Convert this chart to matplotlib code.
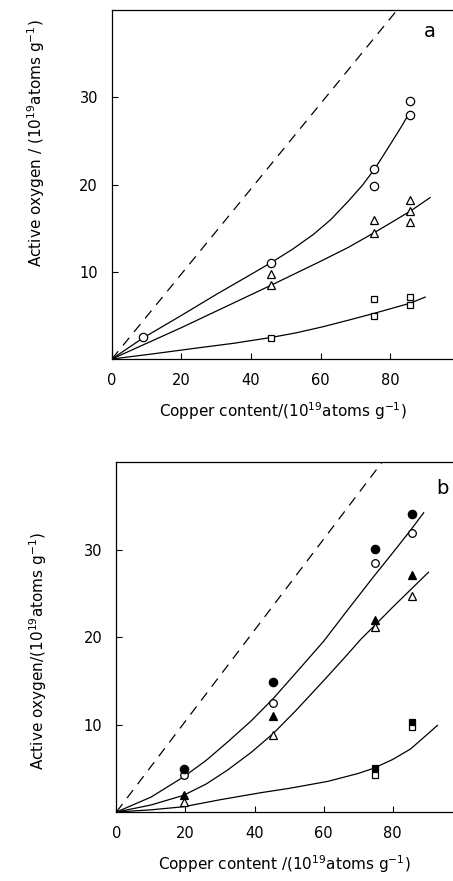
"""
Active oxygen vs copper content, panels a and b
"""
import matplotlib
matplotlib.use("Agg")
import matplotlib.pyplot as plt

# ---- panel a: measured points ----
cir_a_x = [8.9, 45.8, 75.4, 75.4, 85.8, 85.8]
cir_a_y = [2.5, 11.0, 21.8, 19.8, 28.0, 29.6]
tri_a_x = [45.8, 45.8, 75.4, 75.4, 85.8, 85.8, 85.8]
tri_a_y = [9.7, 8.5, 15.9, 14.5, 18.2, 17.0, 15.7]
sq_a_x = [45.8, 75.4, 75.4, 85.8, 85.8]
sq_a_y = [2.4, 6.9, 4.9, 7.1, 6.2]

# panel a: drawn curves
fit_cir_a_x = [0, 8.9, 20, 30, 40, 46, 52, 58, 63, 68, 72, 75.4, 78, 81, 83.5, 85.5]
fit_cir_a_y = [0, 2.4, 5.0, 7.4, 9.7, 11.1, 12.6, 14.3, 16.0, 18.1, 19.9, 21.7, 23.3, 25.2, 26.8, 28.2]
fit_tri_a_x = [0, 20, 46, 60, 68, 75.5, 81, 86, 91.5]
fit_tri_a_y = [0, 3.6, 8.5, 11.2, 12.8, 14.5, 15.8, 17.0, 18.5]
fit_sq_a_x = [0, 12, 23.3, 35, 45.5, 53, 60.7, 68, 75.1, 80, 85.8, 90.1]
fit_sq_a_y = [0, 0.6, 1.2, 1.8, 2.45, 3.0, 3.7, 4.45, 5.2, 5.75, 6.4, 7.1]
dash_a_x = [0, 82]
dash_a_y = [0, 40]

# ---- panel b: measured points ----
cu_b = [19.5, 45.5, 74.8, 85.5]
fcir_b = [4.9, 14.9, 30.1, 34.1]
ocir_b = [4.2, 12.5, 28.5, 31.9]
ftri_b = [1.9, 11.0, 21.9, 27.1]
otri_b = [1.1, 8.8, 21.1, 24.7]
sq_b_x = [74.8, 85.5]
fsq_b = [5.0, 10.3]
osq_b = [4.2, 9.7]

# panel b: drawn curves
fit_cir_b_x = [0, 10, 19.4, 26, 32.2, 39, 45.5, 52, 60, 67, 74.5, 80, 85.2, 89]
fit_cir_b_y = [0, 1.7, 4.0, 5.9, 8.0, 10.4, 13.0, 15.9, 19.5, 23.1, 26.9, 29.6, 32.2, 34.2]
fit_tri_b_x = [0, 10, 19.4, 26, 32.2, 39, 45.5, 52, 60, 66, 70.7, 74.5, 80, 85.2, 90.4]
fit_tri_b_y = [0, 0.8, 1.9, 3.2, 4.8, 6.8, 9.0, 11.6, 15.0, 17.6, 19.7, 21.2, 23.4, 25.4, 27.4]
fit_sq_b_x = [0, 10, 19.4, 30, 41.7, 50, 61.2, 70, 74.5, 80, 85.2, 93]
fit_sq_b_y = [0, 0.25, 0.6, 1.4, 2.2, 2.7, 3.5, 4.4, 5.0, 6.0, 7.2, 9.9]
dash_b_x = [0, 77]
dash_b_y = [0, 40]

xlab_a = r"Copper content/(10$^{19}$atoms g$^{-1}$)"
xlab_b = r"Copper content /(10$^{19}$atoms g$^{-1}$)"
ylab_a = r"Active oxygen / (10$^{19}$atoms g$^{-1}$)"
ylab_b = r"Active oxygen/(10$^{19}$atoms g$^{-1}$)"

plt.rcParams["font.family"] = "DejaVu Sans"
fig = plt.figure(figsize=(4.53, 8.81), dpi=100)

lw = 0.9
mk = dict(linestyle="none", mec="black", mew=0.9, zorder=3)


def style(ax, xmax, xlabel, ylabel):
    ax.set_xlim(0, xmax)
    ax.set_ylim(0, 40)
    ax.set_xticks([0, 20, 40, 60, 80])
    ax.set_yticks([10, 20, 30])
    ax.tick_params(direction="in", length=4, width=0.8, labelsize=10.5, pad=10)
    ax.spines["right"].set_visible(False)
    for s in ["left", "bottom", "top"]:
        ax.spines[s].set_linewidth(0.9)
    ax.set_xlabel(xlabel, fontsize=11, labelpad=9)
    ax.set_ylabel(ylabel, fontsize=11, labelpad=12)


# panel a
ax1 = fig.add_axes([0.247, 0.5925, 0.753, 0.396])
ax1.plot(dash_a_x, dash_a_y, color="black", lw=lw, dashes=(8, 6))
ax1.plot(fit_cir_a_x, fit_cir_a_y, color="black", lw=lw)
ax1.plot(fit_tri_a_x, fit_tri_a_y, color="black", lw=lw)
ax1.plot(fit_sq_a_x, fit_sq_a_y, color="black", lw=lw)
ax1.plot(cir_a_x, cir_a_y, marker="o", ms=6, mfc="white", **mk)
ax1.plot(tri_a_x, tri_a_y, marker="^", ms=6, mfc="white", **mk)
ax1.plot(sq_a_x, sq_a_y, marker="s", ms=5, mfc="white", **mk)
ax1.text(91.5, 37.6, "a", fontsize=14, ha="center", va="center")
style(ax1, 98.1, xlab_a, ylab_a)
ax1.yaxis.set_label_coords(-0.19, 0.62)

# panel b
ax2 = fig.add_axes([0.257, 0.0783, 0.743, 0.3973])
ax2.plot(dash_b_x, dash_b_y, color="black", lw=lw, dashes=(8, 6))
ax2.plot(fit_cir_b_x, fit_cir_b_y, color="black", lw=lw)
ax2.plot(fit_tri_b_x, fit_tri_b_y, color="black", lw=lw)
ax2.plot(fit_sq_b_x, fit_sq_b_y, color="black", lw=lw)
ax2.plot(cu_b, ocir_b, marker="o", ms=5.5, mfc="white", **mk)
ax2.plot(cu_b, fcir_b, marker="o", ms=6, mfc="black", **mk)
ax2.plot(cu_b, otri_b, marker="^", ms=6, mfc="white", **mk)
ax2.plot(cu_b, ftri_b, marker="^", ms=6, mfc="black", **mk)
ax2.plot(sq_b_x, osq_b, marker="s", ms=5, mfc="white", **mk)
ax2.plot(sq_b_x, fsq_b, marker="s", ms=5, mfc="black", **mk)
ax2.text(94.5, 37.0, "b", fontsize=14, ha="center", va="center")
style(ax2, 97.5, xlab_b, ylab_b)
ax2.yaxis.set_label_coords(-0.2, 0.46)

fig.savefig("out.png", dpi=100)
